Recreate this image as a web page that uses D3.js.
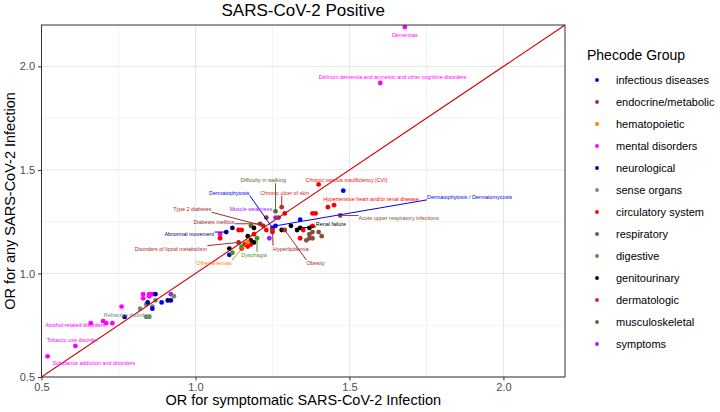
<!DOCTYPE html>
<html>
<head>
<meta charset="utf-8">
<script src="https://cdn.jsdelivr.net/npm/d3@7"></script>
<style>
  body { margin: 0; background: #fff; }
  text { font-family: "Liberation Sans", Arial, sans-serif; }
</style>
</head>
<body>
<div id="chart"></div>
<script>
var width = 720;
var height = 412;

// Phecode groups and their colours
var groups = ["infectious diseases", "endocrine/metabolic", "hematopoietic", "mental disorders",
  "neurological", "sense organs", "circulatory system", "respiratory", "digestive",
  "genitourinary", "dermatologic", "musculoskeletal", "symptoms"];
var groupColors = ["#0000ee", "#a52a2a", "#ff8000", "#ff00ff", "#000080", "#6e8b74", "#ff0000",
  "#8b4c39", "#3d9b1f", "#000000", "#cd2626", "#556b2f", "#a020f0"];

// one entry per phecode: OR symptomatic (x), OR any (y), group
var orSymptomatic = [1.68, 1.60, 1.40, 1.48, 1.45, 1.43, 1.38, 1.39, 1.28, 1.29,
  1.47, 1.27, 1.34, 1.25, 1.26, 1.28, 1.31, 1.34, 1.37, 1.33,
  1.23, 1.35, 1.38, 1.29, 1.25, 1.37, 1.38, 1.40, 1.41, 1.37,
  1.38, 1.34, 1.36, 1.24, 1.26, 1.26, 1.22, 1.21, 1.23, 1.18,
  1.19, 1.10, 1.12, 1.08, 1.08, 1.14, 1.15, 1.25, 1.16, 1.18,
  1.18, 1.19, 1.17, 1.19, 1.20, 1.17, 1.14, 1.17, 1.15, 1.15,
  1.11, 1.12, 1.11,
  0.52, 0.61, 0.66, 0.70, 0.71, 0.73, 0.76, 0.77, 0.84, 0.85,
  0.82, 0.84, 0.845, 0.86, 0.86, 0.83, 0.83, 0.85, 0.85, 0.86,
  0.87, 0.87, 0.89, 0.91, 0.92, 0.92, 0.93];
var orAny = [2.19, 1.92, 1.43, 1.40, 1.33, 1.32, 1.29, 1.29, 1.32, 1.29,
  1.28, 1.27, 1.26, 1.22, 1.23, 1.21, 1.23, 1.22, 1.22, 1.21,
  1.21, 1.21, 1.23, 1.21, 1.21, 1.19, 1.20, 1.20, 1.18, 1.17,
  1.17, 1.17, 1.16, 1.17, 1.27, 1.30, 1.23, 1.24, 1.27, 1.23,
  1.22, 1.20, 1.22, 1.19, 1.17, 1.21, 1.21, 1.20, 1.14, 1.14,
  1.16, 1.15, 1.18, 1.19, 1.17, 1.15, 1.15, 1.13, 1.12, 1.13,
  1.09, 1.10, 1.12,
  0.60, 0.65, 0.76, 0.77, 0.76, 0.76, 0.84, 0.79, 0.79, 0.79,
  0.83, 0.85, 0.86, 0.84, 0.83, 0.90, 0.88, 0.90, 0.89, 0.90,
  0.90, 0.87, 0.86, 0.87, 0.87, 0.90, 0.89];
var pointGroup = [
  "mental disorders", "mental disorders", "circulatory system", "infectious diseases", "circulatory system",
  "circulatory system", "circulatory system", "circulatory system", "dermatologic", "circulatory system",
  "respiratory", "endocrine/metabolic", "infectious diseases", "infectious diseases", "infectious diseases",
  "genitourinary", "genitourinary", "genitourinary", "genitourinary", "genitourinary",
  "circulatory system", "circulatory system", "circulatory system", "endocrine/metabolic", "endocrine/metabolic",
  "respiratory", "respiratory", "respiratory", "respiratory", "respiratory",
  "respiratory", "circulatory system", "respiratory", "symptoms", "symptoms",
  "musculoskeletal", "endocrine/metabolic", "endocrine/metabolic", "endocrine/metabolic", "musculoskeletal",
  "genitourinary", "neurological", "neurological", "mental disorders", "circulatory system",
  "circulatory system", "circulatory system", "circulatory system", "circulatory system", "circulatory system",
  "genitourinary", "genitourinary", "genitourinary", "circulatory system", "digestive",
  "hematopoietic", "endocrine/metabolic", "circulatory system", "circulatory system", "digestive",
  "infectious diseases", "digestive", "genitourinary",
  "mental disorders", "mental disorders", "mental disorders", "mental disorders", "mental disorders",
  "mental disorders", "mental disorders", "neurological", "sense organs", "sense organs",
  "sense organs", "sense organs", "neurological", "sense organs", "infectious diseases",
  "mental disorders", "mental disorders", "mental disorders", "mental disorders", "mental disorders",
  "neurological", "sense organs", "infectious diseases", "neurological", "neurological",
  "symptoms", "sense organs"];

// labelled phecodes: text, index of the point, label position (data units)
var labelText = ["Dementias", "Delirium dementia and amnestic and other cognitive disorders",
  "Chronic venous insufficiency [CVI]", "Hypertensive heart and/or renal disease",
  "Acute upper respiratory infections", "Dermatophytosis / Dermatomycosis", "Renal failure",
  "Chronic ulcer of skin", "Difficulty in walking", "Dermatophytosis", "Muscle weakness",
  "Type 2 diabetes", "Diabetes mellitus", "Abnormal movement", "Disorders of lipoid metabolism",
  "Other anemias", "Dysphagia", "Hyperlipidemia", "Obesity", "Refractive disorders",
  "Alcohol-related disorders", "Tobacco use disorder", "Substance addiction and disorders"];
var labelPoint = [0, 1, 2, 4, 10, 14, 17, 8, 35, 13, 34, 36, 37, 41, 56, 55, 54, 24, 23, 71, 65, 64, 63];
var labelX = [1.68, 1.64, 1.49, 1.57, 1.66, 1.89, 1.44, 1.29, 1.22, 1.11, 1.18, 0.99, 1.06, 0.98, 0.92,
  1.06, 1.19, 1.31, 1.39, 0.78, 0.61, 0.60, 0.67];
var labelY = [2.15, 1.95, 1.45, 1.36, 1.27, 1.37, 1.24, 1.39, 1.45, 1.39, 1.31, 1.31, 1.25, 1.19, 1.12,
  1.05, 1.09, 1.12, 1.05, 0.80, 0.75, 0.68, 0.57];

var majorTicks = [0.5, 1.0, 1.5, 2.0];
var minorTicks = [0.75, 1.25, 1.75];

var panel = { left: 41.5, right: 565, top: 25, bottom: 377 };

var color = d3.scaleOrdinal().domain(groups).range(groupColors);

var svg = d3.select("#chart")
  .append("svg")
  .attr("width", width)
  .attr("height", height);

var xScale = d3.scaleLinear().domain([0.5, 2.2]).range([panel.left, panel.right]);
var yScale = d3.scaleLinear().domain([0.5, 2.2]).range([panel.bottom, panel.top]);

svg.append("clipPath").attr("id", "clip")
  .append("rect")
  .attr("x", panel.left).attr("y", panel.top)
  .attr("width", panel.right - panel.left).attr("height", panel.bottom - panel.top);

// grid
var grid = svg.append("g");
grid.selectAll(".vmin").data(minorTicks).enter().append("line")
  .attr("x1", d => xScale(d)).attr("x2", d => xScale(d))
  .attr("y1", panel.top).attr("y2", panel.bottom)
  .attr("stroke", "#ebebeb").attr("stroke-width", 0.6);
grid.selectAll(".hmin").data(minorTicks).enter().append("line")
  .attr("y1", d => yScale(d)).attr("y2", d => yScale(d))
  .attr("x1", panel.left).attr("x2", panel.right)
  .attr("stroke", "#ebebeb").attr("stroke-width", 0.6);
grid.selectAll(".vmaj").data(majorTicks).enter().append("line")
  .attr("x1", d => xScale(d)).attr("x2", d => xScale(d))
  .attr("y1", panel.top).attr("y2", panel.bottom)
  .attr("stroke", "#e6e6e6").attr("stroke-width", 1);
grid.selectAll(".hmaj").data(majorTicks).enter().append("line")
  .attr("y1", d => yScale(d)).attr("y2", d => yScale(d))
  .attr("x1", panel.left).attr("x2", panel.right)
  .attr("stroke", "#e6e6e6").attr("stroke-width", 1);

// axes
var xAxis = d3.axisBottom(xScale).tickValues(majorTicks).tickFormat(d3.format(".1f"))
  .tickSize(3.5).tickPadding(3);
var yAxis = d3.axisLeft(yScale).tickValues(majorTicks).tickFormat(d3.format(".1f"))
  .tickSize(3.5).tickPadding(3);

var gx = svg.append("g")
  .attr("transform", "translate(0," + panel.bottom + ")")
  .call(xAxis);
var gy = svg.append("g")
  .attr("transform", "translate(" + panel.left + ",0)")
  .call(yAxis);
[gx, gy].forEach(function(g) {
  g.select(".domain").remove();
  g.selectAll("line").attr("stroke", "#333");
  g.selectAll("text").attr("fill", "#4d4d4d").style("font-size", "11px")
    .style("font-family", "'Liberation Sans', Arial, sans-serif");
});

var plot = svg.append("g").attr("clip-path", "url(#clip)");

// points
plot.selectAll("circle")
  .data(orSymptomatic)
  .enter()
  .append("circle")
  .attr("cx", (d, i) => xScale(d))
  .attr("cy", (d, i) => yScale(orAny[i]))
  .attr("r", 2.4)
  .attr("fill", (d, i) => color(pointGroup[i]));

// y = x reference line
plot.append("line")
  .attr("x1", xScale(0.5)).attr("y1", yScale(0.5))
  .attr("x2", xScale(2.2)).attr("y2", yScale(2.2))
  .attr("stroke", "#d40000").attr("stroke-width", 1.1);

// labels with repel-style segments
var segs = plot.append("g");
var texts = plot.append("g");
labelText.forEach(function(t, i) {
  var p = labelPoint[i];
  var c = color(pointGroup[p]);
  var txt = texts.append("text")
    .text(t)
    .attr("x", xScale(labelX[i]))
    .attr("y", yScale(labelY[i]))
    .attr("text-anchor", "middle")
    .attr("dominant-baseline", "central")
    .attr("fill", c)
    .style("font-size", "5.4px");
  var b = txt.node().getBBox();
  var px = xScale(orSymptomatic[p]);
  var py = yScale(orAny[p]);
  var cx = Math.max(b.x, Math.min(px, b.x + b.width));
  var cy = Math.max(b.y, Math.min(py, b.y + b.height));
  if (Math.hypot(cx - px, cy - py) > 9) {
    segs.append("line")
      .attr("x1", px).attr("y1", py)
      .attr("x2", cx).attr("y2", cy)
      .attr("stroke", c).attr("stroke-width", 1);
  }
});

// panel border
svg.append("rect")
  .attr("x", panel.left).attr("y", panel.top)
  .attr("width", panel.right - panel.left).attr("height", panel.bottom - panel.top)
  .attr("fill", "none").attr("stroke", "#333").attr("stroke-width", 1);

// titles
svg.append("text")
  .text("SARS-CoV-2 Positive")
  .attr("x", (panel.left + panel.right) / 2)
  .attr("y", 16)
  .attr("text-anchor", "middle")
  .style("font-size", "17px");

svg.append("text")
  .text("OR for symptomatic SARS-CoV-2 Infection")
  .attr("x", (panel.left + panel.right) / 2)
  .attr("y", 405)
  .attr("text-anchor", "middle")
  .style("font-size", "14.5px");

svg.append("text")
  .text("OR for any SARS-CoV-2 Infection")
  .attr("transform", "translate(15," + (panel.top + panel.bottom) / 2 + ") rotate(-90)")
  .attr("text-anchor", "middle")
  .style("font-size", "14.5px");

// legend
var legend = svg.append("g").attr("transform", "translate(587,0)");
legend.append("text")
  .text("Phecode Group")
  .attr("x", 0).attr("y", 60)
  .style("font-size", "14px");
var rows = legend.selectAll(".row").data(groups).enter().append("g")
  .attr("transform", (d, i) => "translate(0," + (80 + i * 22) + ")");
rows.append("circle")
  .attr("cx", 10).attr("cy", 0).attr("r", 1.9)
  .attr("fill", d => color(d));
rows.append("text")
  .text(d => d)
  .attr("x", 29).attr("y", 0)
  .attr("dominant-baseline", "central")
  .style("font-size", "11px");
</script>
</body>
</html>
